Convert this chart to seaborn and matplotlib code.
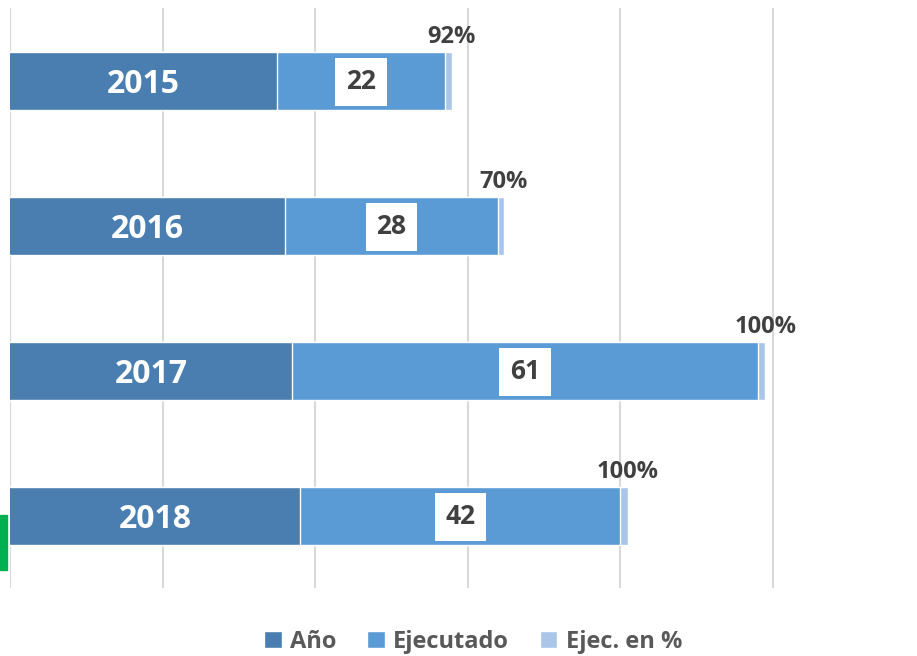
import matplotlib
matplotlib.use("Agg")
import matplotlib.pyplot as plt
import seaborn as sns
import pandas as pd
from matplotlib.patches import Patch, Rectangle

# Datos
years = ["2015", "2016", "2017", "2018"]
anio = [2015, 2016, 2017, 2018]
ejecutado = [22, 28, 61, 42]
ejec_pct = [0.92, 0.70, 1.00, 1.00]

c_anio = "#4A7EB0"
c_ejec = "#5B9BD5"
c_pct = "#AAC5E8"

sns.set_theme(style="white")
plt.rcParams['font.family'] = ['Open Sans', 'DejaVu Sans']

df = pd.DataFrame({"year": years, "anio": anio, "ejec": ejecutado, "pct": ejec_pct})
df["s2"] = df["anio"] + df["ejec"]
df["s3"] = df["s2"] + df["pct"]

fig = plt.figure(figsize=(9.17, 6.56), dpi=100)
ax = fig.add_axes([10 / 917, 1 - 588 / 656, 907 / 917, 580 / 656])

xmin = 1980
# barras apiladas: la mas larga primero
sns.barplot(data=df, x="s3", y="year", color=c_pct, width=0.4, ax=ax,
            edgecolor="white", linewidth=1, saturation=1)
sns.barplot(data=df, x="s2", y="year", color=c_ejec, width=0.4, ax=ax,
            edgecolor="white", linewidth=1, saturation=1)
sns.barplot(data=df, x="anio", y="year", color=c_anio, width=0.4, ax=ax,
            edgecolor="white", linewidth=1, saturation=1)

ax.set_xlim(xmin, xmin + 907 / 7.63)
ax.set_ylim(3.5, -0.5)
ax.set_xticks(range(1980, 2081, 20))
ax.grid(axis="x", color="#D9D9D9", linewidth=1.5)
ax.set_axisbelow(True)
ax.tick_params(left=False, bottom=False, labelleft=False, labelbottom=False)
ax.set_xlabel("")
ax.set_ylabel("")
for s in ax.spines.values():
    s.set_visible(False)

for i, row in df.iterrows():
    ax.text((xmin + row["anio"]) / 2, i + 0.025, row["year"], color="white",
            fontsize=23, fontweight="bold", ha="center", va="center")
    ax.text(row["anio"] + row["ejec"] / 2, i + 0.01, str(row["ejec"]), color="#404040",
            fontsize=19, fontweight="bold", ha="center", va="center",
            bbox=dict(facecolor="white", edgecolor="none", boxstyle="square,pad=0.4"))
    ax.text(row["s3"], i - 0.215, f"{row['pct']:.0%}", color="#404040",
            fontsize=17, fontweight="bold", ha="center", va="bottom")

handles = [Patch(facecolor=c_anio, label="Año"),
           Patch(facecolor=c_ejec, label="Ejecutado"),
           Patch(facecolor=c_pct, label="Ejec. en %")]
leg = fig.legend(handles=handles, loc="center", bbox_to_anchor=(473 / 917, 1 - 642 / 656),
                 ncol=3, frameon=False, handlelength=0.75, handleheight=0.75,
                 handletextpad=0.35, columnspacing=1.3, prop={"size": 17, "weight": "bold"})
for t in leg.get_texts():
    t.set_color("#595959")

# marca verde en el borde izquierdo
fig.patches.append(Rectangle((0, 1 - 570 / 656), 7 / 917, 55 / 656,
                             transform=fig.transFigure, color="#00B050", figure=fig))

fig.savefig("out.png", dpi=100)
